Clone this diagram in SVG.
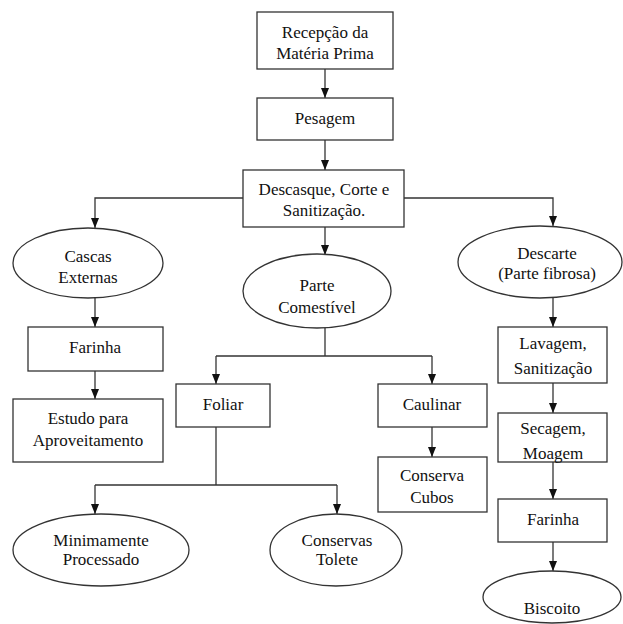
<svg xmlns="http://www.w3.org/2000/svg" width="623" height="624" viewBox="0 0 623 624" font-family="Liberation Serif, DejaVu Serif, serif" font-size="17">
<style>
.n rect,.n ellipse{fill:#fff;stroke:#333;stroke-width:1.3}
text{fill:#111;text-anchor:middle}
.c path{fill:none;stroke:#333;stroke-width:1.3}
</style>
<defs>
<marker id="ah" markerUnits="userSpaceOnUse" markerWidth="10" markerHeight="10" viewBox="0 0 10 10" refX="10" refY="5" orient="auto">
<path d="M0,1 L10,5 L0,9 Z" fill="#111"/>
</marker>
</defs>
<rect width="623" height="624" fill="#fff"/>
<g class="c">
<path d="M325,69 V98" marker-end="url(#ah)"/>
<path d="M325,140 V170" marker-end="url(#ah)"/>
<path d="M243,198 H95 V228" marker-end="url(#ah)"/>
<path d="M404,198 H553 V226" marker-end="url(#ah)"/>
<path d="M325,227 V255" marker-end="url(#ah)"/>
<path d="M95,298 V327" marker-end="url(#ah)"/>
<path d="M95,371 V399" marker-end="url(#ah)"/>
<path d="M325,328 V356"/>
<path d="M216,356 H432"/>
<path d="M216,356 V384" marker-end="url(#ah)"/>
<path d="M432,356 V384" marker-end="url(#ah)"/>
<path d="M216,427 V485"/>
<path d="M95,485 H337"/>
<path d="M95,485 V514" marker-end="url(#ah)"/>
<path d="M337,485 V514" marker-end="url(#ah)"/>
<path d="M432,427 V457" marker-end="url(#ah)"/>
<path d="M553,298 V327" marker-end="url(#ah)"/>
<path d="M553,383 V413" marker-end="url(#ah)"/>
<path d="M553,462 V499" marker-end="url(#ah)"/>
<path d="M553,542 V571" marker-end="url(#ah)"/>
</g>
<g id="recepcao" class="n"><rect x="257" y="12" width="136" height="57"/><text x="325" y="38">Recepção da</text><text x="325" y="59">Matéria Prima</text></g>
<g id="pesagem" class="n"><rect x="257" y="98" width="136" height="42"/><text x="325" y="124">Pesagem</text></g>
<g id="descasque" class="n"><rect x="243" y="170" width="161" height="57"/><text x="324" y="195">Descasque, Corte e</text><text x="324" y="216">Sanitização.</text></g>
<g id="cascas" class="n"><ellipse cx="88" cy="263" rx="75" ry="35"/><text x="88" y="262">Cascas</text><text x="88" y="283">Externas</text></g>
<g id="farinha1" class="n"><rect x="28" y="327" width="135" height="44"/><text x="95" y="353">Farinha</text></g>
<g id="estudo" class="n"><rect x="13" y="399" width="150" height="63"/><text x="88" y="424">Estudo para</text><text x="88" y="446">Aproveitamento</text></g>
<g id="parte" class="n"><ellipse cx="317" cy="291" rx="74" ry="37"/><text x="317" y="291">Parte</text><text x="317" y="313">Comestível</text></g>
<g id="foliar" class="n"><rect x="176" y="384" width="94" height="43"/><text x="223" y="410">Foliar</text></g>
<g id="caulinar" class="n"><rect x="378" y="384" width="109" height="43"/><text x="432" y="410">Caulinar</text></g>
<g id="minimamente" class="n"><ellipse cx="101" cy="550" rx="88" ry="36"/><text x="101" y="546">Minimamente</text><text x="101" y="565">Processado</text></g>
<g id="tolete" class="n"><ellipse cx="336" cy="550" rx="66" ry="36"/><text x="337" y="546">Conservas</text><text x="337" y="565">Tolete</text></g>
<g id="cubos" class="n"><rect x="378" y="457" width="109" height="55"/><text x="432" y="481">Conserva</text><text x="432" y="503">Cubos</text></g>
<g id="descarte" class="n"><ellipse cx="540" cy="262" rx="82" ry="36"/><text x="547" y="259">Descarte</text><text x="547" y="279">(Parte fibrosa)</text></g>
<g id="lavagem" class="n"><rect x="498" y="327" width="109" height="56"/><text x="553" y="349">Lavagem,</text><text x="553" y="374">Sanitização</text></g>
<g id="secagem" class="n"><rect x="498" y="413" width="109" height="49"/><text x="553" y="434">Secagem,</text><text x="553" y="459">Moagem</text></g>
<g id="farinha2" class="n"><rect x="498" y="499" width="109" height="43"/><text x="553" y="525">Farinha</text></g>
<g id="biscoito" class="n"><ellipse cx="552" cy="597" rx="69" ry="26"/><text x="552" y="614">Biscoito</text></g>
</svg>
